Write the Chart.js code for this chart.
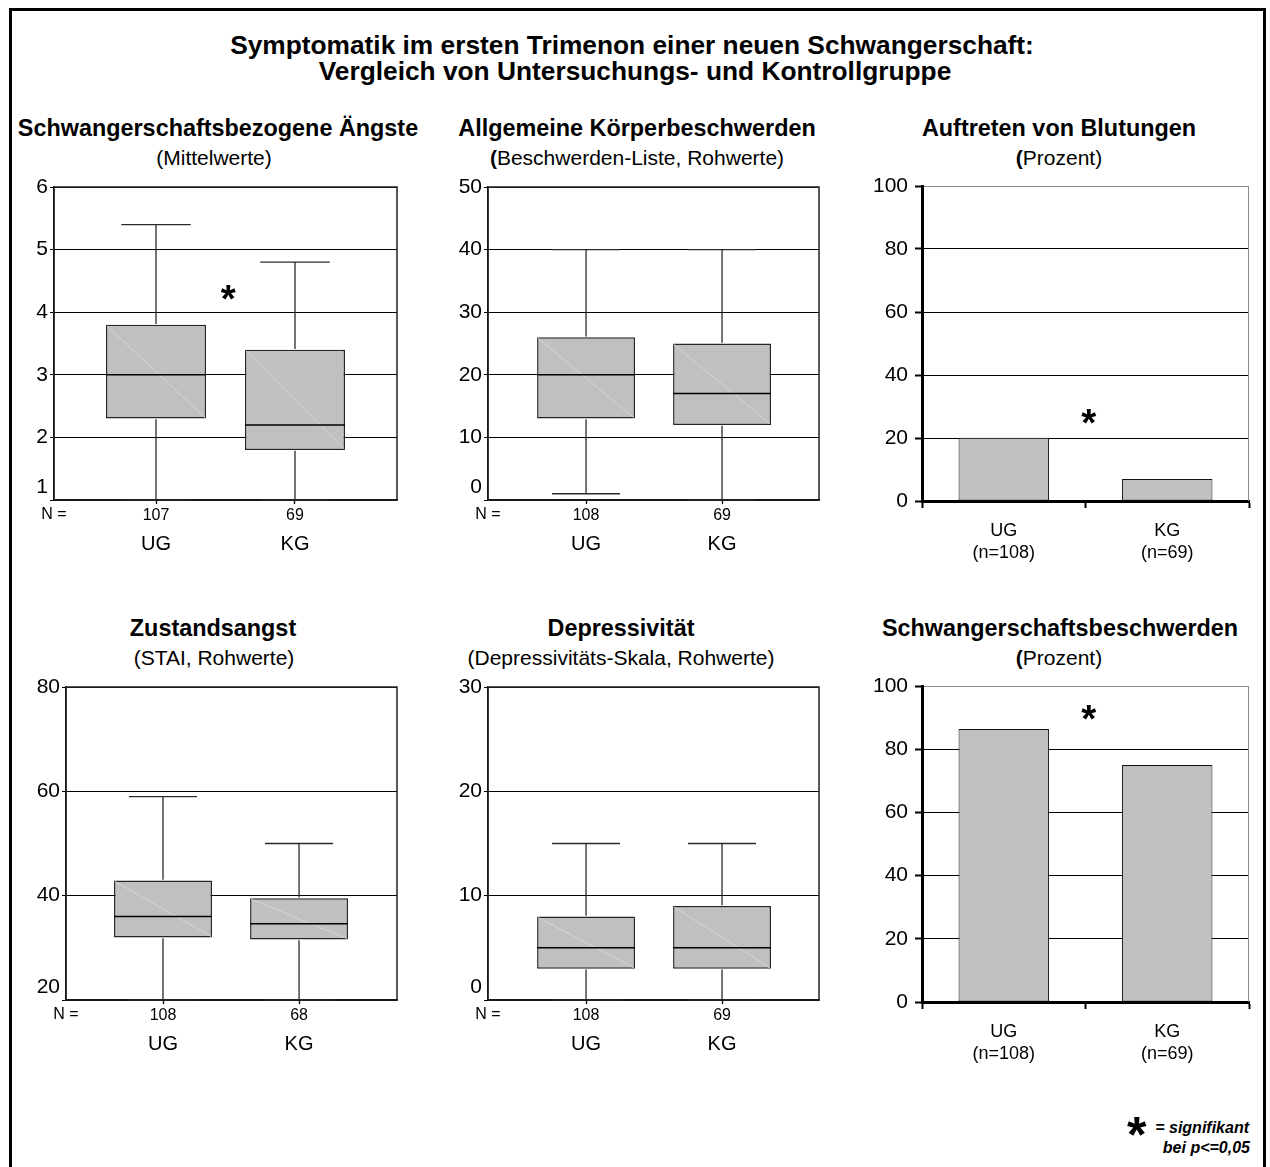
<!DOCTYPE html>
<html><head><meta charset="utf-8">
<script src="https://cdn.jsdelivr.net/npm/chart.js@4.4.1/dist/chart.umd.min.js"></script>
<style>
html,body{margin:0;padding:0;background:#fff;}
body{width:1270px;height:1167px;position:relative;overflow:hidden;font-family:'Liberation Sans',Arial,sans-serif;color:#000;}
.frame{position:absolute;left:9px;top:8px;width:1251px;height:1300px;border:3px solid #000;}
.t{position:absolute;white-space:nowrap;line-height:1;transform:translate(-50%,-50%);}
.main{font-weight:bold;font-size:26.3px;}
.pt{font-weight:bold;font-size:23.4px;}
.ps{font-size:21px;}
canvas{position:absolute;}
.fn{position:absolute;white-space:nowrap;font-weight:bold;font-style:italic;font-size:16px;line-height:16px;}
</style></head>
<body>
<div class="frame"></div>
<div class="t main" style="left:632px;top:45px">Symptomatik im ersten Trimenon einer neuen Schwangerschaft:</div>
<div class="t main" style="left:635px;top:71px">Vergleich von Untersuchungs- und Kontrollgruppe</div>

<div class="t pt" style="left:218px;top:129px">Schwangerschaftsbezogene Ängste</div>
<div class="t ps" style="left:214px;top:157px">(Mittelwerte)</div>
<div class="t pt" style="left:637px;top:129px">Allgemeine Körperbeschwerden</div>
<div class="t ps" style="left:637px;top:157px"><b>(</b>Beschwerden-Liste, Rohwerte)</div>
<div class="t pt" style="left:1059px;top:129px">Auftreten von Blutungen</div>
<div class="t ps" style="left:1059px;top:157px"><b>(</b>Prozent)</div>

<div class="t pt" style="left:213px;top:629px">Zustandsangst</div>
<div class="t ps" style="left:214px;top:657px">(STAI, Rohwerte)</div>
<div class="t pt" style="left:621px;top:629px">Depressivität</div>
<div class="t ps" style="left:621px;top:657px">(Depressivitäts-Skala, Rohwerte)</div>
<div class="t pt" style="left:1060px;top:629px">Schwangerschaftsbeschwerden</div>
<div class="t ps" style="left:1059px;top:657px"><b>(</b>Prozent)</div>

<div style="position:absolute;left:1127px;top:1110px;font-weight:bold;font-size:50px;line-height:50px;">*</div>
<div class="fn" style="top:1120px;right:21px">= signifikant</div>
<div class="fn" style="top:1140px;right:20px">bei p&lt;=0,05</div>

<canvas id="c1" width="400" height="390" style="left:14px;top:170px"></canvas>
<canvas id="c2" width="400" height="390" style="left:440px;top:170px"></canvas>
<canvas id="c3" width="410" height="409" style="left:850px;top:166px"></canvas>
<canvas id="c4" width="400" height="390" style="left:14px;top:670px"></canvas>
<canvas id="c5" width="400" height="390" style="left:440px;top:670px"></canvas>
<canvas id="c6" width="410" height="410" style="left:850px;top:666px"></canvas>

<script>
// ---------- data ----------
const groups = ['UG', 'KG'];

// Schwangerschaftsbezogene Ängste (Mittelwerte)
const angstN   = ['107', '69'];
const angstMin = [1.0, 1.0];
const angstQ1  = [2.3, 1.8];
const angstMed = [3.0, 2.2];
const angstQ3  = [3.8, 3.4];
const angstMax = [5.4, 4.8];
const angstSig = {x: 1.52, y: 4.32};

// Allgemeine Körperbeschwerden
const koerperN   = ['108', '69'];
const koerperMin = [1, 0];
const koerperQ1  = [13, 12];
const koerperMed = [20, 17];
const koerperQ3  = [26, 25];
const koerperMax = [40, 40];

// Zustandsangst (STAI)
const staiN   = ['108', '68'];
const staiMin = [20, 20];
const staiQ1  = [32, 31.6];
const staiMed = [36, 34.6];
const staiQ3  = [42.9, 39.5];
const staiMax = [59, 50];

// Depressivität
const depN   = ['108', '69'];
const depMin = [0, 0];
const depQ1  = [3, 3];
const depMed = [5, 5];
const depQ3  = [8, 9];
const depMax = [15, 15];

// Prozent-Balken
const barGroups = [['UG', '(n=108)'], ['KG', '(n=69)']];
const blutungenPct   = [20.1, 7.0];
const blutungenSig   = {x: 0.52, y: 26.7};
const beschwerdenPct = [86.4, 75.0];
const beschwerdenSig = {x: 0.52, y: 91.5};

// ---------- drawing ----------
const FAM = "'Liberation Sans', Arial, sans-serif";
Chart.defaults.font.family = FAM;
Chart.defaults.color = '#000';

function drawStar(ctx, px, py, targetW) {
  ctx.save();
  ctx.font = 'bold 100px ' + FAM;
  const m0 = ctx.measureText('*');
  const w0 = m0.actualBoundingBoxRight + m0.actualBoundingBoxLeft;
  const size = 100 * targetW / w0;
  ctx.font = 'bold ' + size + 'px ' + FAM;
  ctx.textAlign = 'left'; ctx.textBaseline = 'alphabetic';
  const m = ctx.measureText('*');
  const w = m.actualBoundingBoxRight + m.actualBoundingBoxLeft;
  const h = m.actualBoundingBoxAscent + m.actualBoundingBoxDescent;
  ctx.fillStyle = '#000';
  ctx.fillText('*', px - w / 2 + m.actualBoundingBoxLeft, py - h / 2 + m.actualBoundingBoxAscent);
  ctx.restore();
}

function seg(ctx, x1, y1, x2, y2) {
  ctx.beginPath(); ctx.moveTo(x1, y1); ctx.lineTo(x2, y2); ctx.stroke();
}

const boxPlugin = {
  id: 'boxWhisker',
  afterDatasetsDraw(chart, args, o) {
    if (!o || !o.med) return;
    const ctx = chart.ctx, ca = chart.chartArea, x = chart.scales.x, y = chart.scales.y;
    const meta = chart.getDatasetMeta(0);
    ctx.save();
    o.med.forEach((m, i) => {
      const el = meta.data[i];
      const cx = x.getPixelForValue(i + 1);
      const half = el.width / 2;
      const capHalf = x.getPixelForValue(1.25) - x.getPixelForValue(1);
      const yq1 = y.getPixelForValue(o.q1[i]), yq3 = y.getPixelForValue(o.q3[i]);
      // faint diagonal inside the box
      ctx.strokeStyle = '#d6d6d6'; ctx.lineWidth = 1;
      seg(ctx, cx - half + 1, yq3 + 1, cx + half - 1, yq1 - 1);
      // whiskers
      ctx.strokeStyle = '#2a2a2a'; ctx.lineWidth = 1.3;
      const ymx = y.getPixelForValue(o.mx[i]), ymn = y.getPixelForValue(o.mn[i]);
      seg(ctx, cx, yq3 - 0.75, cx, ymx);
      seg(ctx, cx, yq1 + 0.75, cx, ymn);
      seg(ctx, cx - capHalf, ymx, cx + capHalf, ymx);
      seg(ctx, cx - capHalf, ymn, cx + capHalf, ymn);
      // median
      ctx.strokeStyle = '#000'; ctx.lineWidth = 1.5;
      const ym = y.getPixelForValue(m);
      seg(ctx, cx - half, ym, cx + half, ym);
    });
    // plot frame
    ctx.strokeStyle = '#222'; ctx.lineWidth = 1.5;
    ctx.strokeRect(ca.left, ca.top, ca.right - ca.left, ca.bottom - ca.top);
    // "N =" label
    ctx.fillStyle = '#000';
    ctx.font = '16px ' + FAM;
    ctx.textAlign = 'center'; ctx.textBaseline = 'middle';
    ctx.fillText('N =', ca.left, ca.bottom + 15);
    if (o.sig) drawStar(ctx, x.getPixelForValue(o.sig.x), y.getPixelForValue(o.sig.y), 15);
    ctx.restore();
  }
};

const barPlugin = {
  id: 'barFrame',
  afterDatasetsDraw(chart, args, o) {
    if (!o || !o.on) return;
    const ctx = chart.ctx, ca = chart.chartArea, x = chart.scales.x, y = chart.scales.y;
    ctx.save();
    ctx.strokeStyle = '#8c8c8c'; ctx.lineWidth = 1;
    seg(ctx, Math.round(ca.right) - 0.5, ca.top, Math.round(ca.right) - 0.5, ca.bottom);
    if (o.sig) drawStar(ctx, x.getPixelForValue(o.sig.x), y.getPixelForValue(o.sig.y), 15);
    ctx.restore();
  }
};

function fixTicks(axis) { axis.ticks = groups.map((g, i) => ({value: i + 1})); }

function boxChart(id, d) {
  return new Chart(document.getElementById(id), {
    type: 'bar',
    data: {
      datasets: [{
        data: groups.map((g, i) => ({x: i + 1, y: [d.q1[i], d.q3[i]]})),
        backgroundColor: '#c0c0c0', borderColor: '#262626', borderWidth: 1.5,
        borderSkipped: false, barPercentage: 0.72, categoryPercentage: 1
      }]
    },
    options: {
      responsive: false, animation: false, devicePixelRatio: 1,
      layout: {padding: {top: 17, right: d.padR, bottom: 0, left: 0}},
      plugins: {
        legend: {display: false}, tooltip: {enabled: false},
        boxWhisker: {mn: d.mn, q1: d.q1, med: d.med, q3: d.q3, mx: d.mx, sig: d.sig}
      },
      scales: {
        x: {
          type: 'linear', position: 'bottom', weight: 0, min: d.xMin, max: d.xMax, offset: false,
          afterBuildTicks: fixTicks, afterFit: a => { a.height = 26; },
          ticks: {callback: (v, i) => d.n[i], font: {size: 16}, color: '#000', padding: 2, maxRotation: 0, autoSkip: false},
          grid: {offset: false, drawOnChartArea: false, drawTicks: true, tickLength: 4, color: '#000', tickColor: '#000', tickWidth: 1.3},
          border: {display: true, color: '#000', width: 1.5}
        },
        x2: {
          type: 'linear', position: 'bottom', weight: 1, min: d.xMin, max: d.xMax, offset: false,
          afterBuildTicks: fixTicks, afterFit: a => { a.height = 34; },
          ticks: {callback: (v, i) => groups[i], font: {size: 20}, color: '#000', padding: 6, maxRotation: 0, autoSkip: false},
          grid: {display: false, drawTicks: false, offset: false}, border: {display: false}
        },
        y: {
          min: d.yMin, max: d.yMax,
          afterFit: a => { a.width = d.yW; },
          ticks: {stepSize: d.step, font: {size: 21}, color: '#000', padding: 2,
                  callback: (v, i) => i === 0 ? [String(v), ''] : String(v)},
          grid: {color: '#000', lineWidth: 1, tickLength: 4, tickColor: '#000'},
          border: {color: '#000', width: 1.5}
        }
      }
    },
    plugins: [boxPlugin]
  });
}

function barChart(id, vals, sig) {
  return new Chart(document.getElementById(id), {
    type: 'bar',
    data: {
      labels: barGroups,
      datasets: [{
        data: vals, backgroundColor: '#c0c0c0', borderColor: '#111', borderWidth: 1,
        borderSkipped: false, barPercentage: 0.553, categoryPercentage: 1
      }]
    },
    options: {
      responsive: false, animation: false, devicePixelRatio: 1,
      layout: {padding: {top: 20, right: 11, bottom: 0, left: 0}},
      plugins: {legend: {display: false}, tooltip: {enabled: false}, barFrame: {on: true, sig: sig}},
      scales: {
        x: {
          offset: true, afterFit: a => { a.height = 74; },
          ticks: {font: {size: 18, lineHeight: 1.22}, color: '#000', padding: 12, maxRotation: 0, autoSkip: false},
          grid: {offset: true, drawOnChartArea: false, drawTicks: true, tickLength: 7, tickWidth: 2, tickColor: '#000'},
          border: {color: '#000', width: 3}
        },
        y: {
          min: 0, max: 100, afterFit: a => { a.width = 72; },
          ticks: {stepSize: 20, font: {size: 21}, color: '#000', padding: 7},
          grid: {color: c => (c.tick && c.tick.value === 100) ? '#8c8c8c' : '#000', lineWidth: 1,
                 tickLength: 7, tickWidth: 2, tickColor: '#000'},
          border: {color: '#000', width: 3}
        }
      }
    },
    plugins: [barPlugin]
  });
}

boxChart('c1', {n: angstN, mn: angstMin, q1: angstQ1, med: angstMed, q3: angstQ3, mx: angstMax,
  yMin: 1, yMax: 6, step: 1, xMin: 0.266, xMax: 2.734, yW: 40, padR: 17, sig: angstSig});
boxChart('c2', {n: koerperN, mn: koerperMin, q1: koerperQ1, med: koerperMed, q3: koerperQ3, mx: koerperMax,
  yMin: 0, yMax: 50, step: 10, xMin: 0.279, xMax: 2.713, yW: 48, padR: 21});
boxChart('c4', {n: staiN, mn: staiMin, q1: staiQ1, med: staiMed, q3: staiQ3, mx: staiMax,
  yMin: 20, yMax: 80, step: 20, xMin: 0.287, xMax: 2.72, yW: 52, padR: 17});
boxChart('c5', {n: depN, mn: depMin, q1: depQ1, med: depMed, q3: depQ3, mx: depMax,
  yMin: 0, yMax: 30, step: 10, xMin: 0.279, xMax: 2.713, yW: 48, padR: 21});
barChart('c3', blutungenPct, blutungenSig);
barChart('c6', beschwerdenPct, beschwerdenSig);
</script>
</body></html>
